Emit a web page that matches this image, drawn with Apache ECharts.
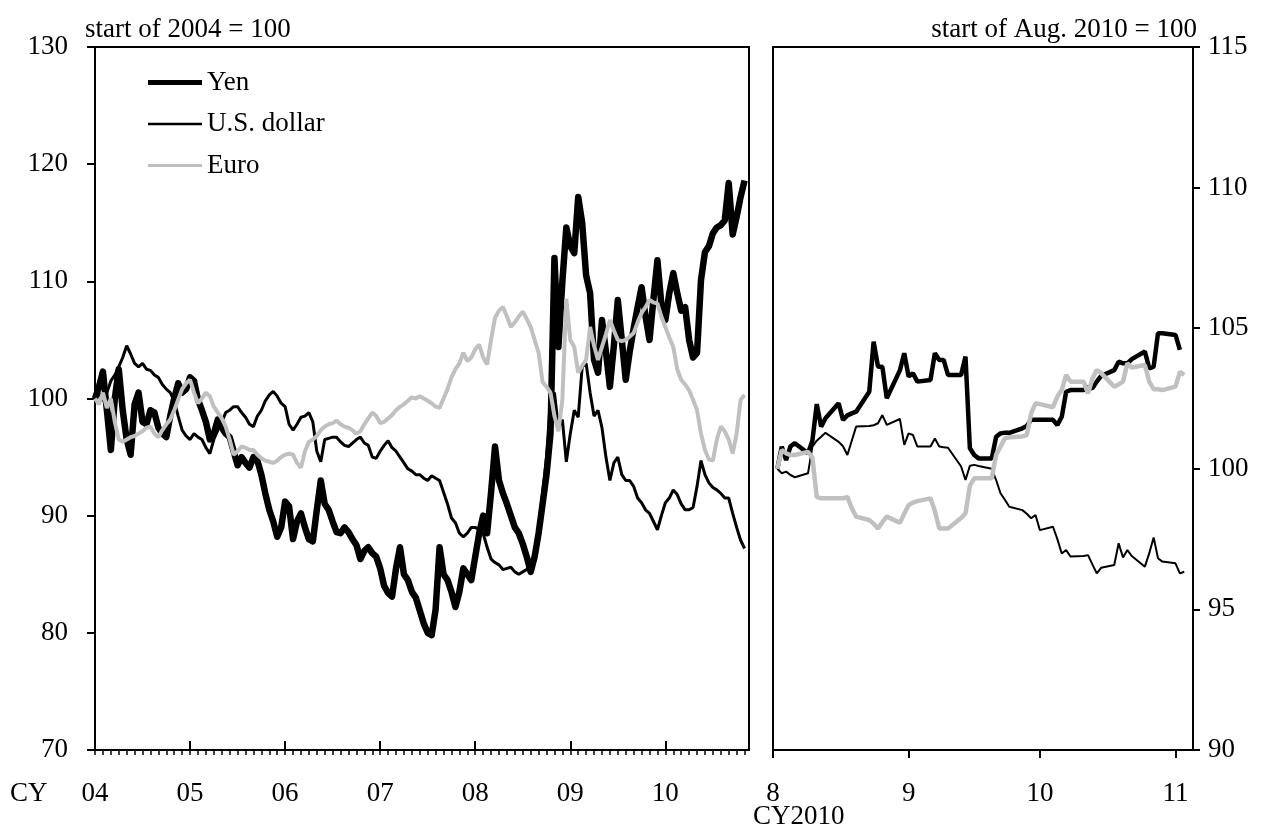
<!DOCTYPE html>
<html><head><meta charset="utf-8">
<script src="https://cdn.jsdelivr.net/npm/echarts@6/dist/echarts.min.js"></script>
<style>html,body{margin:0;padding:0;background:#fff}#c{width:1267px;height:831px}</style>
</head><body><div id="c"></div>
<script>
// ---------- Left panel: semi-monthly readings from start of 2004 (start of 2004 = 100) ----------
const leftStartYear = 2004;
const leftStepsPerYear = 24;
const leftYearTicks = [2004, 2005, 2006, 2007, 2008, 2009, 2010];
const yenL = [
  100, 101, 102.3, 99, 95.6, 100, 102.5, 99, 96.5, 95.2, 99.5, 100.5, 98, 97.8, 99, 98.8, 97.5, 97, 96.7, 98.5, 100, 101.3, 100.5, 100.8, 101.8,
  101.5, 99.9, 99, 98, 96.5, 97, 98.2, 97.5, 97, 96.7, 95.5, 94.3, 95, 94.5, 94.1, 95, 94.7, 93.5, 91.9, 90.5, 89.5, 88.2, 89, 91.2,
  90.8, 88, 89.5, 90.2, 89, 88, 87.8, 90.5, 93, 91, 90.5, 89.5, 88.6, 88.5, 89, 88.6, 88, 87.5, 86.3, 87, 87.3, 86.8, 86.5, 85.5,
  84, 83.4, 83.1, 85.5, 87.3, 85, 84.5, 83.5, 83, 81.9, 80.8, 80, 79.8, 82, 87.3, 85, 84.5, 83.5, 82.2, 83.5, 85.5, 85, 84.5, 86.5,
  88.5, 90, 88.5, 92, 95.9, 93, 91.9, 91, 90, 89, 88.5, 87.6, 86.5, 85.2, 86.5, 88.5, 91, 93.5, 97, 112, 104.4, 110, 114.6, 113,
  112.4, 117.2, 115, 110.5, 109, 103.3, 102.2, 106.7, 104, 101, 104.5, 108.4, 105, 101.6, 104, 106, 107.8, 109.5, 107, 105, 108.5, 111.8, 108, 106.7,
  109, 110.7, 109, 107.5, 107.8, 105, 103.5, 103.9, 110.1, 112.5, 113, 114.1, 114.6, 114.8, 115.2, 118.4, 114, 115.5, 117.2, 118.6
];
const usdL = [
  100, 100.5, 99.8, 100.5, 101.5, 102, 102.7, 103.5, 104.5, 103.8, 103, 102.7, 103, 102.5, 102.4, 102, 101.8, 101.2, 100.8, 100.5, 99.8, 98.5, 97.3, 96.8, 96.5,
  97, 96.7, 96.5, 95.8, 95.3, 96.5, 97.3, 98, 98.8, 99, 99.3, 99.3, 98.8, 98.4, 97.8, 97.6, 98.5, 99, 99.8, 100.3, 100.6, 100.2, 99.6, 99.3,
  97.8, 97.3, 97.8, 98.4, 98.5, 98.8, 98, 95.5, 94.6, 96.5, 96.6, 96.7, 96.7, 96.3, 96, 95.9, 96.2, 96.5, 96.7, 96.2, 96, 95, 94.9, 95.5,
  96, 96.4, 95.8, 95.5, 95, 94.5, 94, 93.8, 93.5, 93.5, 93.2, 93, 93.4, 93.2, 93, 92, 91, 89.8, 89.4, 88.5, 88.2, 88.5, 89, 89,
  88.8, 88.5, 87.3, 86.3, 86, 85.8, 85.4, 85.5, 85.6, 85.2, 85, 85.2, 85.4, 85.8, 86.2, 88, 91.9, 95, 100, 100.5, 97.5, 98.2, 94.6, 97,
  99, 98.4, 102.7, 103, 100.5, 98.5, 99, 97.5, 95, 93, 94.5, 95, 93.5, 93, 93, 92.5, 91.5, 91.1, 90.5, 90.2, 89.5, 88.8, 90, 91.1,
  91.5, 92.2, 91.8, 91, 90.5, 90.5, 90.7, 92.5, 94.7, 93.5, 92.8, 92.4, 92.2, 91.9, 91.5, 91.5, 90.2, 89, 87.9, 87.2
];
const euroL = [
  100, 99.5, 100.5, 99.2, 100, 98, 96.5, 96.3, 96.5, 96.7, 96.8, 97, 97.2, 97.5, 97.6, 97, 96.7, 97.3, 97.8, 98.2, 99, 99.9, 100.8, 101.3, 101.6,
  100.5, 99.6, 100, 100.5, 100.2, 99.3, 98.8, 98.3, 97.6, 96.5, 95.2, 95.5, 95.9, 95.8, 95.6, 95.6, 95.2, 94.9, 94.7, 94.6, 94.5, 94.7, 95, 95.2,
  95.3, 95.2, 94.5, 94.1, 95.5, 96.3, 96.5, 96.8, 97.3, 97.6, 97.8, 97.9, 98.1, 97.8, 97.6, 97.5, 97.3, 97, 97.2, 97.8, 98.3, 98.8, 98.5, 97.9,
  98, 98.3, 98.6, 99, 99.3, 99.5, 99.8, 100.1, 100, 100.2, 100, 99.8, 99.6, 99.3, 99.2, 100, 100.8, 101.8, 102.5, 103, 103.9, 103.2, 103.5, 104.2,
  104.6, 103.5, 102.9, 105, 106.9, 107.5, 107.8, 107, 106.1, 106.5, 107, 107.4, 106.8, 106.1, 105, 103.9, 101.4, 101, 100.5, 98.5, 97.2, 99.9, 108.5, 105,
  104.4, 102.2, 102.8, 103.3, 106.1, 104.5, 103.3, 104.4, 105.5, 106.7, 105.8, 105, 104.9, 105, 105.3, 105.6, 106.5, 107.3, 107.8, 108.4, 108.2, 108.1, 107, 106.1,
  105.2, 104.4, 102.5, 101.6, 101.2, 100.7, 99.9, 99, 97, 95.6, 94.8, 94.7, 96.5, 97.6, 97.2, 96.5, 95.3, 97, 99.9, 100.3
];

// ---------- Right panel: business days Aug-Nov 2010 (start of Aug. 2010 = 100) ----------
const rightDates = [
  '2010-08-02','2010-08-03','2010-08-04','2010-08-05','2010-08-06','2010-08-09','2010-08-10','2010-08-11','2010-08-12','2010-08-13',
  '2010-08-16','2010-08-17','2010-08-18','2010-08-19','2010-08-20','2010-08-23','2010-08-24','2010-08-25','2010-08-26','2010-08-27',
  '2010-08-30','2010-08-31',
  '2010-09-01','2010-09-02','2010-09-03','2010-09-06','2010-09-07','2010-09-08','2010-09-09','2010-09-10','2010-09-13','2010-09-14',
  '2010-09-15','2010-09-16','2010-09-17','2010-09-20','2010-09-21','2010-09-22','2010-09-23','2010-09-24','2010-09-27','2010-09-28',
  '2010-09-29','2010-09-30',
  '2010-10-01','2010-10-04','2010-10-05','2010-10-06','2010-10-07','2010-10-08','2010-10-11','2010-10-12','2010-10-13','2010-10-14',
  '2010-10-15','2010-10-18','2010-10-19','2010-10-20','2010-10-21','2010-10-22','2010-10-25','2010-10-26','2010-10-27','2010-10-28',
  '2010-10-29',
  '2010-11-01','2010-11-02','2010-11-03'
];
const yenR = [
  100.0, 100.79, 100.31, 100.8, 100.91, 100.55, 101.0, 102.3, 101.5, 101.8, 102.33, 101.74, 101.9, 101.97, 102.03, 102.74, 104.52, 103.63, 103.63, 102.51, 103.5, 104.11,
  103.28, 103.40, 103.10, 103.16, 104.11, 103.87, 103.87, 103.34, 103.34, 103.99, 100.73, 100.49, 100.37, 100.37, 101.14, 101.26, 101.28, 101.28, 101.44, 101.52, 101.74, 101.74,
  101.74, 101.74, 101.56, 101.85, 102.74, 102.80, 102.80, 102.9, 102.86, 103.1, 103.3, 103.51, 103.81, 103.75, 103.75, 103.9, 104.17, 103.57, 103.63, 104.82, 104.82,
  104.76, 104.23, null
];
const usdR = [
  100.0, 99.84, 99.90, 99.78, 99.7, 99.84, 100.79, 101.0, 101.14, 101.28, 100.96, 100.8, 100.49, 101.0, 101.50, 101.52, 101.55, 101.62, 101.91, 101.56, 101.77, 100.85,
  101.26, 101.20, 100.79, 100.79, 101.08, 100.79, 100.77, 100.75, 100.08, 99.60, 100.11, 100.14, 100.1, 100.0, 99.6, 99.13, 98.9, 98.65, 98.53, 98.4, 98.24, 98.36,
  97.82, 97.94, 97.5, 96.99, 97.11, 96.88, 96.9, 96.93, 96.6, 96.28, 96.48, 96.58, 97.35, 96.85, 97.11, 96.9, 96.52, 97.0, 97.56, 96.82, 96.70,
  96.64, 96.28, 96.34
];
const euroR = [
  100.0, 100.67, 100.55, 100.49, 100.49, 100.6, 100.4, 99.0, 98.95, 98.95, 98.95, 98.95, 99.0, 98.6, 98.3, 98.18, 98.05, 97.88, 98.1, 98.30, 98.08, 98.4,
  98.71, 98.8, 98.85, 98.95, 98.5, 97.88, 97.88, 97.88, 98.25, 98.42, 99.4, 99.66, 99.66, 99.66, 100.5, 100.79, 101.08, 101.12, 101.15, 101.2, 101.97, 102.33,
  102.3, 102.19, 102.57, 102.8, 103.34, 103.10, 103.10, 102.68, 103.2, 103.51, 103.4, 102.92, 103.0, 103.10, 103.75, 103.6, 103.69, 103.1, 102.83, 102.83, 102.8,
  102.92, 103.45, 103.34
];
const rightMonthTicks = ['2010-08-01', '2010-09-01', '2010-10-01', '2010-11-01'];
const rightAxisEnd = '2010-11-05';

// ---------- build ----------
const leftX = i => leftStartYear + i / leftStepsPerYear;
const pairL = arr => arr.map((v, i) => [leftX(i), v]);
const pairR = arr => rightDates.map((d, i) => [Date.parse(d), arr[i]]);
const monthTicks = [];
for (let k = 0; k <= 82; k++) monthTicks.push(leftStartYear + k / 12);

const FONT = 'Liberation Serif, Times New Roman, serif';
const FS = 27;
const GRAY = '#c0c0c0';
const W = {yenL: 6.5, usdL: 3, euroL: 4, yenR: 4.5, usdR: 2, euroR: 4.5};
const legendBar = h => 'path://M0,0H54V' + h + 'H0Z';

const chart = echarts.init(document.getElementById('c'), null, {renderer: 'canvas'});
chart.setOption({
  animation: false,
  backgroundColor: '#fff',
  textStyle: {fontFamily: FONT, color: '#000'},
  grid: [
    {left: 95, top: 47, width: 654, height: 703, show: true, borderColor: '#000', borderWidth: 2, backgroundColor: 'transparent'},
    {left: 773, top: 47, width: 420, height: 703, show: true, borderColor: '#000', borderWidth: 2, backgroundColor: 'transparent'}
  ],
  xAxis: [
    {type: 'value', gridIndex: 0, min: 2004, max: 2010.88, position: 'bottom',
     axisLine: {lineStyle: {color: '#000', width: 2}},
     axisTick: {show: true, inside: true, length: 9, lineStyle: {color: '#000', width: 2}, customValues: leftYearTicks},
     axisLabel: {customValues: leftYearTicks, formatter: v => String(Math.round(v)).slice(2), fontSize: FS, fontFamily: FONT, color: '#000', margin: 30},
     splitLine: {show: false}},
    {type: 'value', gridIndex: 0, min: 2004, max: 2010.88, position: 'bottom',
     axisLine: {show: false},
     axisTick: {show: true, inside: false, length: 5, lineStyle: {color: '#000', width: 1.5}, customValues: monthTicks},
     axisLabel: {show: false},
     splitLine: {show: false}},
    {type: 'value', gridIndex: 1, min: Date.parse('2010-08-01'), max: Date.parse(rightAxisEnd), position: 'bottom',
     axisLine: {lineStyle: {color: '#000', width: 2}},
     axisTick: {show: true, inside: false, length: 8, lineStyle: {color: '#000', width: 2}, customValues: rightMonthTicks.map(d => Date.parse(d))},
     axisLabel: {customValues: rightMonthTicks.map(d => Date.parse(d)), formatter: v => String(new Date(v).getUTCMonth() + 1), fontSize: FS, fontFamily: FONT, color: '#000', margin: 30},
     splitLine: {show: false}}
  ],
  yAxis: [
    {type: 'value', gridIndex: 0, min: 70, max: 130, interval: 10, position: 'left',
     axisLine: {show: true, lineStyle: {color: '#000', width: 2}},
     axisTick: {show: true, inside: false, length: 8, lineStyle: {color: '#000', width: 2}},
     axisLabel: {fontSize: FS, fontFamily: FONT, color: '#000', margin: 27},
     splitLine: {show: false}},
    {type: 'value', gridIndex: 1, min: 90, max: 115, interval: 5, position: 'right',
     axisLine: {show: true, lineStyle: {color: '#000', width: 2}},
     axisTick: {show: true, inside: false, length: 7, lineStyle: {color: '#000', width: 2}},
     axisLabel: {fontSize: FS, fontFamily: FONT, color: '#000', margin: 15},
     splitLine: {show: false}}
  ],
  legend: {
    data: [
      {name: 'Yen', icon: legendBar(5), itemStyle: {color: '#000'}},
      {name: 'U.S. dollar', icon: legendBar(2.5), itemStyle: {color: '#000'}},
      {name: 'Euro', icon: legendBar(3), itemStyle: {color: GRAY}}
    ],
    orient: 'vertical', left: 148, top: 69, padding: 0, itemWidth: 54, itemHeight: 14, itemGap: 14.5,
    symbolKeepAspect: true,
    textStyle: {fontSize: FS, fontFamily: FONT, color: '#000'},
    selectedMode: false
  },
  graphic: [
    {type: 'text', left: 85, top: 16, style: {text: 'start of 2004 = 100', font: `${FS}px ${FONT}`, fill: '#000'}},
    {type: 'text', right: 70, top: 16, style: {text: 'start of Aug. 2010 = 100', font: `${FS}px ${FONT}`, fill: '#000'}},
    {type: 'text', left: 10, top: 780, style: {text: 'CY', font: `${FS}px ${FONT}`, fill: '#000'}},
    {type: 'text', left: 753, top: 803, style: {text: 'CY2010', font: `${FS}px ${FONT}`, fill: '#000'}}
  ],
  series: [
    {name: 'Yen', type: 'line', xAxisIndex: 0, yAxisIndex: 0, data: pairL(yenL), symbol: 'none',
     lineStyle: {color: '#000', width: W.yenL, join: 'round'}, itemStyle: {color: '#000'}},
    {name: 'U.S. dollar', type: 'line', xAxisIndex: 0, yAxisIndex: 0, data: pairL(usdL), symbol: 'none',
     lineStyle: {color: '#000', width: W.usdL}, itemStyle: {color: '#000'}},
    {name: 'Euro', type: 'line', xAxisIndex: 0, yAxisIndex: 0, data: pairL(euroL), symbol: 'none',
     lineStyle: {color: GRAY, width: W.euroL}, itemStyle: {color: GRAY}},
    {name: 'Yen', type: 'line', xAxisIndex: 2, yAxisIndex: 1, data: pairR(yenR), symbol: 'none',
     lineStyle: {color: '#000', width: W.yenR}, itemStyle: {color: '#000'}},
    {name: 'U.S. dollar', type: 'line', xAxisIndex: 2, yAxisIndex: 1, data: pairR(usdR), symbol: 'none',
     lineStyle: {color: '#000', width: W.usdR}, itemStyle: {color: '#000'}},
    {name: 'Euro', type: 'line', xAxisIndex: 2, yAxisIndex: 1, data: pairR(euroR), symbol: 'none',
     lineStyle: {color: GRAY, width: W.euroR}, itemStyle: {color: GRAY}}
  ]
});
</script>
</body></html>
